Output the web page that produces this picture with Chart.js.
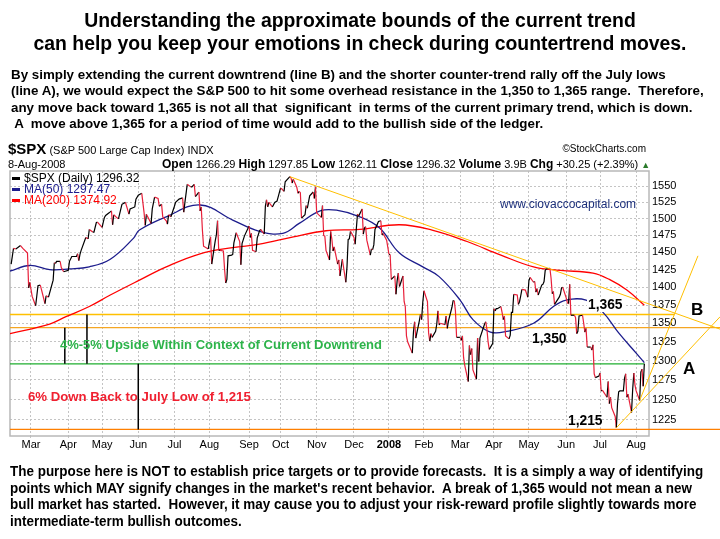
<!DOCTYPE html>
<html>
<head>
<meta charset="utf-8">
<script src="https://cdn.jsdelivr.net/npm/chart.js@4.4.1/dist/chart.umd.min.js"></script>
<style>
body { margin: 0; background: #fff; font-family: "Liberation Sans", Arial, sans-serif; }
#wrap { position: relative; width: 720px; height: 539px; overflow: hidden; }
#c { position: absolute; left: 0; top: 0; }
.t { position: absolute; white-space: pre; color: #000; line-height: 1; }
.title { left: 0; width: 720px; text-align: center; font-weight: bold; font-size: 19.4px; line-height: 22.5px; top: 9px; }
.para { left: 11px; top: 67px; font-weight: bold; font-size: 13.35px; line-height: 16.3px; }
.foot { left: 10px; top: 463px; font-weight: bold; font-size: 14px; line-height: 16.7px; transform-origin: 0 0; }
.leg { left: 12px; top: 173px; font-size: 12px; line-height: 11px; }
.leg span.m { display: inline-block; width: 8px; height: 3px; vertical-align: middle; margin-right: 4px; }
.ann { font-weight: bold; }
</style>
</head>
<body>
<div id="wrap">
<canvas id="c" width="720" height="539"></canvas>

<div class="t title">Understanding the approximate bounds of the current trend
can help you keep your emotions in check during countertrend moves.</div>

<div class="t para">By simply extending the current downtrend (line B) and the shorter counter-trend rally off the July lows
(line A), we would expect the S&amp;P 500 to hit some overhead resistance in the 1,350 to 1,365 range.  Therefore,
any move back toward 1,365 is not all that  significant  in terms of the current primary trend, which is down.
 A  move above 1,365 for a period of time would add to the bullish side of the ledger.</div>

<div class="t" style="left:8px;top:141px;font-size:11px;"><b style="font-size:15px;">$SPX</b> (S&amp;P 500 Large Cap Index) INDX</div>
<div class="t" style="right:74px;top:144px;font-size:10px;">&copy;StockCharts.com</div>
<div class="t" style="left:8px;top:159px;font-size:11px;">8-Aug-2008</div>
<div class="t" style="left:162px;top:158px;font-size:11px;"><b style="font-size:12px;">Open</b> 1266.29 <b style="font-size:12px;">High</b> 1297.85 <b style="font-size:12px;">Low</b> 1262.11 <b style="font-size:12px;">Close</b> 1296.32 <b style="font-size:12px;">Volume</b> 3.9B <b style="font-size:12px;">Chg</b> +30.25 (+2.39%) <span style="color:#2a7a2a;font-size:9px;">&#9650;</span></div>

<div class="t leg"><span class="m" style="background:#000"></span>$SPX (Daily) 1296.32
<span class="m" style="background:#1c1c8c"></span><span style="color:#1c1c8c">MA(50) 1297.47</span>
<span class="m" style="background:#ff0000"></span><span style="color:#ff0000">MA(200) 1374.92</span></div>

<div class="t" style="left:500px;top:198px;font-size:12px;color:#1c2f7a;">www.ciovaccocapital.com</div>
<div class="t ann" style="left:60px;top:338px;font-size:13px;color:#2db34a;">4%-5% Upside Within Context of Current Downtrend</div>
<div class="t ann" style="left:28px;top:390px;font-size:13.2px;color:#f02030;">6% Down Back to July Low of 1,215</div>
<div class="t ann" style="left:587px;top:298px;font-size:13.8px;background:#fff;padding:0 1px;">1,365</div>
<div class="t ann" style="left:532px;top:332px;font-size:13.8px;">1,350</div>
<div class="t ann" style="left:568px;top:414px;font-size:13.8px;">1,215</div>
<div class="t ann" style="left:691px;top:301px;font-size:17px;">B</div>
<div class="t ann" style="left:683px;top:360px;font-size:17px;">A</div>

<div class="t foot" id="foot">The purpose here is NOT to establish price targets or to provide forecasts.  It is a simply a way of identifying
points which MAY signify changes in the market's recent behavior.  A break of 1,365 would not mean a new
bull market has started.  However, it may cause you to adjust your risk-reward profile slightly towards more
intermediate-term bullish outcomes.</div>
</div>

<script>
// $SPX daily closes
const priceDates = [
  '2007-02-12','2007-02-14','2007-02-16','2007-02-20','2007-02-22','2007-02-26','2007-02-27','2007-02-28',
  '2007-03-02','2007-03-05','2007-03-07','2007-03-09','2007-03-13','2007-03-14','2007-03-16','2007-03-20',
  '2007-03-21','2007-03-22','2007-03-23','2007-03-26','2007-03-27','2007-03-29',
  '2007-04-02','2007-04-03','2007-04-05','2007-04-09','2007-04-10','2007-04-11','2007-04-12','2007-04-13',
  '2007-04-17','2007-04-18','2007-04-19','2007-04-20','2007-04-23','2007-04-24','2007-04-26','2007-04-27',
  '2007-05-01','2007-05-02','2007-05-03','2007-05-04','2007-05-07','2007-05-09','2007-05-10','2007-05-11',
  '2007-05-14','2007-05-15','2007-05-18','2007-05-21','2007-05-24','2007-05-25','2007-05-29','2007-05-30',
  '2007-06-01','2007-06-04','2007-06-06','2007-06-07','2007-06-08','2007-06-12','2007-06-13','2007-06-15',
  '2007-06-18','2007-06-19','2007-06-21','2007-06-22','2007-06-25','2007-06-26','2007-06-27','2007-06-29',
  '2007-07-02','2007-07-03','2007-07-06','2007-07-09','2007-07-10','2007-07-11','2007-07-13','2007-07-16',
  '2007-07-17','2007-07-19','2007-07-20','2007-07-23','2007-07-24','2007-07-25','2007-07-26','2007-07-27',
  '2007-07-31','2007-08-01','2007-08-02','2007-08-03','2007-08-06','2007-08-07','2007-08-08','2007-08-09',
  '2007-08-10','2007-08-13','2007-08-14','2007-08-15','2007-08-16','2007-08-17','2007-08-20','2007-08-21',
  '2007-08-22','2007-08-24','2007-08-27','2007-08-28','2007-08-29','2007-08-31',
  '2007-09-04','2007-09-05','2007-09-06','2007-09-07','2007-09-10','2007-09-11','2007-09-13','2007-09-14',
  '2007-09-17','2007-09-18','2007-09-19','2007-09-20','2007-09-21','2007-09-24','2007-09-26','2007-09-28',
  '2007-10-01','2007-10-02','2007-10-04','2007-10-05','2007-10-09','2007-10-10','2007-10-11','2007-10-12',
  '2007-10-15','2007-10-16','2007-10-17','2007-10-18','2007-10-19','2007-10-22','2007-10-23','2007-10-24',
  '2007-10-26','2007-10-29','2007-10-30','2007-10-31',
  '2007-11-01','2007-11-05','2007-11-06','2007-11-07','2007-11-08','2007-11-09','2007-11-12','2007-11-13',
  '2007-11-14','2007-11-15','2007-11-16','2007-11-19','2007-11-20','2007-11-21','2007-11-23','2007-11-26',
  '2007-11-27','2007-11-28','2007-11-29','2007-11-30',
  '2007-12-03','2007-12-04','2007-12-05','2007-12-06','2007-12-07','2007-12-10','2007-12-11','2007-12-12',
  '2007-12-13','2007-12-14','2007-12-17','2007-12-18','2007-12-19','2007-12-20','2007-12-21','2007-12-24',
  '2007-12-26','2007-12-27','2007-12-28','2007-12-31',
  '2008-01-02','2008-01-03','2008-01-04','2008-01-07','2008-01-08','2008-01-09','2008-01-10','2008-01-11',
  '2008-01-14','2008-01-15','2008-01-16','2008-01-17','2008-01-18','2008-01-22','2008-01-23','2008-01-24',
  '2008-01-25','2008-01-28','2008-01-29','2008-01-30','2008-01-31',
  '2008-02-01','2008-02-04','2008-02-05','2008-02-06','2008-02-07','2008-02-08','2008-02-11','2008-02-12',
  '2008-02-13','2008-02-14','2008-02-15','2008-02-19','2008-02-20','2008-02-21','2008-02-22','2008-02-25',
  '2008-02-26','2008-02-27','2008-02-28','2008-02-29',
  '2008-03-03','2008-03-04','2008-03-05','2008-03-06','2008-03-07','2008-03-10','2008-03-11','2008-03-12',
  '2008-03-13','2008-03-14','2008-03-17','2008-03-18','2008-03-19','2008-03-20','2008-03-24','2008-03-25',
  '2008-03-26','2008-03-27','2008-03-28','2008-03-31',
  '2008-04-01','2008-04-02','2008-04-03','2008-04-04','2008-04-07','2008-04-08','2008-04-09','2008-04-10',
  '2008-04-11','2008-04-14','2008-04-15','2008-04-16','2008-04-17','2008-04-18','2008-04-21','2008-04-22',
  '2008-04-23','2008-04-24','2008-04-25','2008-04-28','2008-04-29','2008-04-30',
  '2008-05-01','2008-05-02','2008-05-05','2008-05-06','2008-05-07','2008-05-08','2008-05-09','2008-05-12',
  '2008-05-13','2008-05-14','2008-05-15','2008-05-16','2008-05-19','2008-05-20','2008-05-21','2008-05-22',
  '2008-05-23','2008-05-27','2008-05-28','2008-05-29','2008-05-30',
  '2008-06-02','2008-06-03','2008-06-04','2008-06-05','2008-06-06','2008-06-09','2008-06-10','2008-06-11',
  '2008-06-12','2008-06-13','2008-06-16','2008-06-17','2008-06-18','2008-06-19','2008-06-20','2008-06-23',
  '2008-06-24','2008-06-25','2008-06-26','2008-06-27','2008-06-30',
  '2008-07-01','2008-07-02','2008-07-03','2008-07-07','2008-07-08','2008-07-09','2008-07-10','2008-07-11',
  '2008-07-14','2008-07-15','2008-07-16','2008-07-17','2008-07-18','2008-07-21','2008-07-22','2008-07-23',
  '2008-07-24','2008-07-25','2008-07-28','2008-07-29','2008-07-30','2008-07-31',
  '2008-08-01','2008-08-04','2008-08-05','2008-08-06','2008-08-07','2008-08-08'
];
const priceValues = [
  1433,1456,1455,1460,1456,1449,1399,1407,
  1387,1374,1402,1403,1377,1388,1386,1410,
  1435,1434,1437,1437,1428,1422,
  1424,1437,1444,1444,1448,1438,1447,1453,
  1472,1471,1470,1484,1480,1480,1494,1495,
  1487,1495,1502,1505,1509,1512,1491,1506,
  1501,1500,1522,1525,1507,1515,1518,1530,
  1536,1539,1509,1490,1507,1493,1515,1533,
  1531,1519,1522,1503,1497,1492,1506,1503,
  1519,1525,1530,1532,1510,1525,1553,1549,
  1549,1553,1534,1541,1512,1518,1483,1459,
  1455,1465,1473,1433,1467,1476,1497,1453,
  1453,1452,1426,1406,1411,1445,1446,1447,
  1464,1479,1466,1432,1463,1474,
  1489,1472,1478,1453,1451,1471,1482,1484,
  1477,1519,1529,1518,1525,1518,1525,1527,
  1547,1546,1542,1557,1565,1563,1555,1561,
  1548,1539,1542,1540,1501,1506,1520,1516,
  1535,1541,1531,1549,
  1509,1502,1520,1475,1474,1453,1439,1481,
  1470,1452,1458,1433,1439,1416,1440,1407,
  1429,1469,1470,1481,
  1472,1462,1485,1507,1504,1515,1477,1486,
  1488,1468,1446,1455,1454,1461,1484,1496,
  1497,1476,1478,1468,
  1447,1447,1411,1416,1390,1409,1420,1401,
  1416,1380,1373,1333,1325,1310,1338,1352,
  1330,1353,1362,1355,1379,
  1395,1380,1337,1326,1336,1331,1339,1349,
  1367,1348,1350,1348,1360,1343,1353,1372,
  1381,1381,1367,1331,
  1331,1327,1333,1304,1294,1273,1320,1308,
  1316,1288,1276,1330,1299,1330,1349,1352,
  1342,1325,1315,1323,
  1370,1367,1370,1370,1373,1365,1355,1360,
  1333,1329,1334,1365,1365,1390,1389,1376,
  1380,1388,1397,1396,1391,1386,
  1409,1414,1407,1408,1393,1398,1389,1403,
  1404,1408,1424,1426,1427,1413,1391,1394,
  1376,1386,1390,1399,1400,
  1385,1378,1377,1404,1361,1361,1358,1336,
  1339,1360,1361,1350,1338,1343,1318,1318,
  1314,1321,1283,1278,1280,
  1284,1261,1262,1253,1273,1245,1253,1240,
  1229,1215,1245,1260,1261,1261,1277,1283,
  1253,1257,1234,1263,1284,1268,
  1261,1249,1285,1289,1267,1296
];

// moving averages
const ma50Dates = ['2007-02-11','2007-02-28','2007-03-17','2007-04-03','2007-04-20','2007-05-08','2007-05-28',
  '2007-06-02','2007-06-25','2007-07-24','2007-08-21','2007-09-13','2007-10-03','2007-10-17','2007-11-04',
  '2007-11-18','2007-12-08','2007-12-25','2008-01-11','2008-01-31','2008-02-14','2008-03-03','2008-03-14',
  '2008-03-29','2008-04-12','2008-05-05','2008-05-22','2008-06-02','2008-06-19','2008-07-03','2008-07-17',
  '2008-08-01','2008-08-08'];
const ma50Values = [1423,1431,1425,1426,1429,1440,1471,1483,1503,1521,1498,1481,1478,1493,1512,
  1513,1503,1486,1449,1429,1415,1382,1355,1338,1339,1350,1373,1382,1382,1366,1337,1310,1297.47];

const ma200Dates = ['2007-02-11','2007-03-17','2007-03-31','2007-04-20','2007-05-08','2007-06-02','2007-06-25',
  '2007-07-24','2007-08-21','2007-09-13','2007-10-12','2007-11-09','2007-12-08','2008-01-11','2008-02-08',
  '2008-03-09','2008-04-07','2008-05-05','2008-05-28','2008-06-25','2008-07-09','2008-07-24','2008-08-08'];
const ma200Values = [1336,1349,1359,1373,1389,1410,1429,1448,1457,1462,1473,1482,1484,1491,1483,
  1466,1446,1429,1424,1420,1411,1396,1374.92];

// axis ticks
const monthTickDates = ['2007-03-01','2007-04-02','2007-05-01','2007-06-01','2007-07-02','2007-08-01',
  '2007-09-04','2007-10-01','2007-11-01','2007-12-03','2008-01-02','2008-02-01','2008-03-03','2008-04-01',
  '2008-05-01','2008-06-02','2008-07-01','2008-08-01'];
const monthLabels = ['Mar','Apr','May','Jun','Jul','Aug','Sep','Oct','Nov','Dec','2008','Feb','Mar','Apr',
  'May','Jun','Jul','Aug'];
const yTicks = [1225,1250,1275,1300,1325,1350,1375,1400,1425,1450,1475,1500,1525,1550];

// drawn levels and trend lines
const levelValues = [1362, 1344, 1296, 1213];
const levelEnds = ['2008-09-03', '2008-11-30', '2008-08-08', '2008-11-30'];
const levelColors = ['#ffc000', '#f5a623', '#1fae2f', '#ff7f00'];
const lineBDates = ['2007-10-09', '2008-10-12'];
const lineBValues = [1565, 1342];
const lineADates = ['2008-07-15', '2008-10-12'];
const lineAValues = [1215, 1359];
const lineA2Dates = ['2008-08-04', '2008-09-23'];
const lineA2Values = [1249, 1445];
const markerDates = ['2007-03-30', '2007-04-18', '2007-06-01'];
const markerFrom = [1344, 1362, 1296];
const markerTo = [1296, 1296, 1213];

const day = s => Date.UTC(+s.slice(0, 4), +s.slice(5, 7) - 1, +s.slice(8, 10)) / 864e5;
const pts = (ds, vs) => ds.map((d, i) => ({ x: day(d), y: vs[i] }));

const xMin = day('2007-02-11'), xMax = day('2008-08-12');
const UP = '#000000', DOWN = '#e8203a';

// squeeze the footer into the narrow width of the original
var foot = document.getElementById('foot');
foot.style.transform = 'scaleX(' + (693 / foot.offsetWidth) + ')';

var datasets = [];
function overlay(data, color, width) {
  datasets.push({ data: data, borderColor: color, borderWidth: width, clip: false, pointRadius: 0 });
}
overlay(pts(lineBDates, lineBValues), '#ffbf00', 1);
overlay(pts(lineADates, lineAValues), '#ffbf00', 1);
overlay(pts(lineA2Dates, lineA2Values), '#ffbf00', 1);
markerDates.forEach((d, i) => overlay([{ x: day(d), y: markerFrom[i] }, { x: day(d), y: markerTo[i] }], '#000', 1.5));

datasets.push({
  data: pts(priceDates, priceValues), borderWidth: 1.2, pointRadius: 0,
  borderColor: UP,
  segment: { borderColor: c => c.p1.parsed.y < c.p0.parsed.y ? DOWN : UP }
});
datasets.push({ data: pts(ma50Dates, ma50Values), borderColor: '#1c1c8c', borderWidth: 1.3, pointRadius: 0, tension: 0.4 });
datasets.push({ data: pts(ma200Dates, ma200Values), borderColor: '#ff0000', borderWidth: 1.3, pointRadius: 0, tension: 0.4 });
levelValues.forEach((v, i) => overlay([{ x: xMin, y: v }, { x: day(levelEnds[i]), y: v }], levelColors[i], i === 0 ? 1.5 : 1.2));

const frame = {
  id: 'frame',
  beforeDatasetsDraw(chart) {
    const a = chart.chartArea, c = chart.ctx;
    c.save();
    c.strokeStyle = '#b8b8b8';
    c.lineWidth = 1.5;
    c.strokeRect(a.left, a.top, a.right - a.left, a.bottom - a.top);
    c.restore();
  }
};

var ctx = document.getElementById('c').getContext('2d');
var myChart = new Chart(ctx, {
  type: 'line',
  data: { datasets: datasets },
  plugins: [frame],
  options: {
    responsive: false,
    animation: false,
    layout: { padding: { left: 10, top: 171, right: 0, bottom: 0 } },
    plugins: { legend: { display: false }, tooltip: { enabled: false } },
    elements: { line: { tension: 0 } },
    scales: {
      x: {
        type: 'linear', min: xMin, max: xMax,
        afterBuildTicks: s => { s.ticks = monthTickDates.map(d => ({ value: day(d) })); },
        afterFit: s => { s.height = 103; },
        ticks: {
          autoSkip: false, maxRotation: 0, padding: 0, color: '#000',
          callback: (v, i) => monthLabels[i],
          font: c => ({ family: 'Liberation Sans', size: 11, weight: monthLabels[c.index] === '2008' ? 'bold' : 'normal' })
        },
        grid: { color: '#c4c4c4', tickLength: 2 },
        border: { display: false, dash: [2, 2] }
      },
      y: {
        type: 'logarithmic', position: 'right', min: 1205, max: 1574,
        afterBuildTicks: s => { s.ticks = yTicks.map(v => ({ value: v })); },
        afterFit: s => { s.width = 71; },
        ticks: { padding: 3, color: '#000', callback: v => String(v), font: { family: 'Liberation Sans', size: 11 } },
        grid: { color: '#c4c4c4', drawTicks: false },
        border: { display: false, dash: [2, 2] }
      }
    }
  }
});
</script>
</body>
</html>
